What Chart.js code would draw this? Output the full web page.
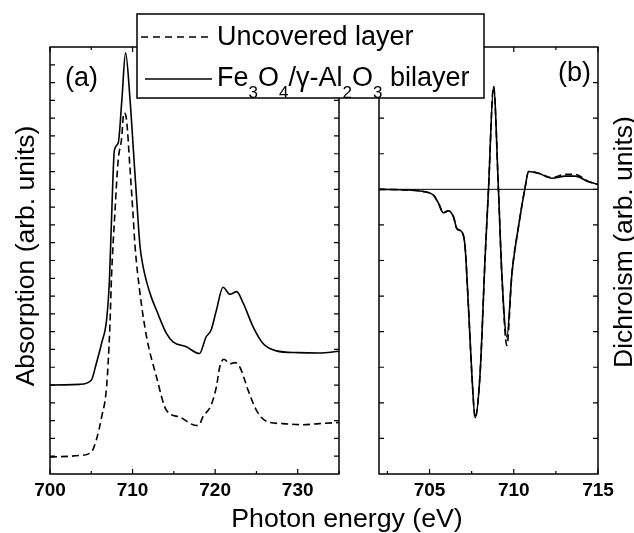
<!DOCTYPE html>
<html>
<head>
<meta charset="utf-8">
<script src="https://cdn.jsdelivr.net/npm/chart.js@4.4.1/dist/chart.umd.min.js"></script>
<style>
  html, body { margin: 0; padding: 0; background: #fff; }
  #wrap { position: relative; width: 634px; height: 533px; overflow: hidden; }
  #wrap canvas, #wrap svg { position: absolute; left: 0; top: 0; }
  svg text { font-family: "Liberation Sans", Arial, sans-serif; fill: #000; }
</style>
</head>
<body>
<div id="wrap">
  <canvas id="absChart" width="634" height="533"></canvas>
  <canvas id="dichChart" width="634" height="533"></canvas>
  <svg width="634" height="533" viewBox="0 0 634 533">
    <!-- legend -->
    <rect x="137" y="14" width="347" height="84" fill="#fff" stroke="#000" stroke-width="1.5"/>
    <line x1="141" y1="37" x2="212" y2="37" stroke="#000" stroke-width="1.6" stroke-dasharray="7 5"/>
    <line x1="145" y1="79" x2="212" y2="79" stroke="#000" stroke-width="1.6"/>
    <text x="217" y="45" font-size="27">Uncovered layer</text>
    <text x="217" y="86" font-size="27">Fe<tspan font-size="17" dy="12">3</tspan><tspan dy="-12">O</tspan><tspan font-size="17" dy="12">4</tspan><tspan dy="-12">/γ-Al</tspan><tspan font-size="17" dy="12">2</tspan><tspan dy="-12">O</tspan><tspan font-size="17" dy="12">3</tspan><tspan dy="-12"> bilayer</tspan></text>
    <!-- panel labels -->
    <text x="65" y="86" font-size="27">(a)</text>
    <text x="558" y="81" font-size="27">(b)</text>
    <!-- axis titles -->
    <text x="34" y="256" font-size="26.5" text-anchor="middle" transform="rotate(-90 34 256)">Absorption (arb. units)</text>
    <text x="632" y="242" font-size="26.5" text-anchor="middle" transform="rotate(-90 632 242)">Dichroism (arb. units)</text>
    <text x="347" y="527" font-size="26.7" text-anchor="middle">Photon energy (eV)</text>
  </svg>
</div>
<script>
// Panel (a): absorption, energy in eV, intensity in tick units
const bilayerAbsEnergy = [700, 703.6, 705.0, 705.6, 706.25, 706.85, 707.2, 707.5, 707.8, 708.26, 708.7, 709.15, 709.7, 710.1, 710.5, 710.9, 711.3, 711.7, 712.3, 712.9, 714.1, 714.9, 716.5, 718.1, 718.9, 719.5, 720.15, 720.95, 721.8, 722.6, 723.4, 724.6, 725.8, 727.4, 730, 732.6, 735];
const bilayerAbs = [5.0, 5.04, 5.27, 6.2, 7.35, 8.65, 10.9, 15.0, 18.2, 18.6, 21.0, 23.67, 21.0, 18.2, 15.4, 12.8, 11.6, 10.8, 9.9, 9.2, 7.9, 7.43, 7.15, 6.77, 7.7, 8.08, 9.2, 10.5, 10.1, 10.25, 9.6, 8.27, 7.33, 6.92, 6.82, 6.8, 6.9];

const uncoveredAbsEnergy = [700, 703.6, 705.0, 705.6, 706.25, 706.85, 707.25, 707.45, 707.85, 708.26, 708.66, 708.95, 709.27, 709.67, 710.07, 710.3, 710.9, 711.7, 712.9, 714.1, 715.7, 717.7, 718.1, 718.5, 719.5, 720.15, 720.55, 721.05, 721.8, 722.4, 723, 724, 725, 726.2, 728.2, 730.6, 732.6, 735];
const uncoveredAbs = [0.95, 1.04, 1.23, 1.9, 3.2, 4.9, 8.27, 11.1, 14.6, 17.66, 18.8, 20.3, 19.9, 17.3, 14.5, 12.8, 10.15, 7.7, 5.45, 3.58, 3.2, 2.73, 2.78, 3.2, 3.86, 4.9, 6.0, 6.45, 6.2, 6.26, 6.0, 4.7, 3.58, 2.97, 2.83, 2.77, 2.83, 2.9];

// Panel (b): dichroism
const dichEnergy = [702, 703.74, 704.73, 705.23, 705.53, 705.82, 706.12, 706.42, 706.62, 706.95, 707.11, 707.31, 707.51, 707.71, 708.0, 708.3, 708.5, 708.8, 709.09, 709.29, 709.59, 709.89, 710.28, 710.68, 710.88, 711.47, 712.27, 713.06, 713.65, 714.44, 715];
const bilayerDich = [0, -0.02, -0.07, -0.16, -0.39, -0.66, -0.6, -0.77, -1.1, -1.22, -1.62, -3.3, -5.18, -6.42, -5.18, -1.9, 0, 2.89, 0, -2.37, -4.15, -2.37, -1.05, 0.07, 0.5, 0.45, 0.31, 0.37, 0.37, 0.21, 0.14];
const uncoveredDich = [0, -0.02, -0.07, -0.16, -0.39, -0.66, -0.6, -0.77, -1.1, -1.22, -1.62, -3.3, -5.18, -6.42, -5.18, -1.9, 0, 2.89, 0, -2.37, -4.39, -2.37, -1.05, 0.07, 0.5, 0.45, 0.33, 0.42, 0.42, 0.22, 0.14];

// tick labels
const absTicks = [700, 710, 720, 730];
const dichTicks = [705, 710, 715];

const FONT = '"Liberation Sans", Arial, sans-serif';

const pairs = (xs, ys) => xs.map((x, i) => ({ x: x, y: ys[i] }));

// frame + inward tick marks on all four sides
const frameTicks = {
    id: 'frameTicks',
    afterDatasetsDraw(chart, args, opts) {
        const ctx = chart.ctx;
        const a = chart.chartArea;
        const xs = chart.scales.x;
        const ys = chart.scales.y;
        ctx.save();
        ctx.strokeStyle = '#000';
        ctx.lineWidth = 1.2;
        ctx.beginPath();
        const x0 = Math.ceil(xs.min / opts.xStep - 1e-9) * opts.xStep;
        for (let v = x0; v <= xs.max + 1e-9; v += opts.xStep) {
            const px = xs.getPixelForValue(v);
            const len = opts.major.some(m => Math.abs(m - v) < 1e-6) ? 5 : 3;
            ctx.moveTo(px, a.bottom); ctx.lineTo(px, a.bottom - len);
            ctx.moveTo(px, a.top); ctx.lineTo(px, a.top + len);
        }
        for (let v = ys.min + 1; v < ys.max; v += 1) {
            const py = ys.getPixelForValue(v);
            ctx.moveTo(a.left, py); ctx.lineTo(a.left + 5, py);
            ctx.moveTo(a.right, py); ctx.lineTo(a.right - 5, py);
        }
        ctx.stroke();
        ctx.lineWidth = 1.5;
        ctx.strokeRect(a.left, a.top, a.right - a.left, a.bottom - a.top);
        ctx.restore();
    }
};

function makeOptions(xMin, xMax, yMin, yMax, ticks, xStep, padding) {
    return {
        responsive: false,
        animation: false,
        layout: { padding: padding },
        elements: { point: { radius: 0 }, line: { cubicInterpolationMode: 'monotone' } },
        plugins: {
            legend: { display: false },
            tooltip: { enabled: false },
            frameTicks: { xStep: xStep, major: ticks }
        },
        scales: {
            x: {
                type: 'linear',
                min: xMin,
                max: xMax,
                grid: { display: false, drawTicks: false },
                border: { display: false },
                afterBuildTicks: s => { s.ticks = ticks.map(v => ({ value: v })); },
                afterFit: s => { s.height = 59; },
                ticks: {
                    color: '#000',
                    padding: 5.5,
                    maxRotation: 0,
                    autoSkip: false,
                    font: { family: FONT, size: 19, weight: 'bold' }
                }
            },
            y: { type: 'linear', display: false, min: yMin, max: yMax }
        }
    };
}

new Chart(document.getElementById('absChart'), {
    type: 'line',
    data: {
        datasets: [{
            label: 'Fe3O4/γ-Al2O3 bilayer',
            data: pairs(bilayerAbsEnergy, bilayerAbs),
            borderColor: '#000',
            borderWidth: 1.6,
            fill: false
        }, {
            label: 'Uncovered layer',
            data: pairs(uncoveredAbsEnergy, uncoveredAbs),
            borderColor: '#000',
            borderWidth: 1.6,
            borderDash: [7, 4],
            fill: false
        }]
    },
    options: makeOptions(700, 735, 0, 24, absTicks, 5, { left: 50, right: 295, top: 47, bottom: 0 }),
    plugins: [frameTicks]
});

new Chart(document.getElementById('dichChart'), {
    type: 'line',
    data: {
        datasets: [{
            label: 'Fe3O4/γ-Al2O3 bilayer',
            data: pairs(dichEnergy, bilayerDich),
            borderColor: '#000',
            borderWidth: 1.6,
            fill: false
        }, {
            label: 'Uncovered layer',
            data: pairs(dichEnergy, uncoveredDich),
            borderColor: '#000',
            borderWidth: 1.6,
            borderDash: [7, 4],
            fill: false
        }, {
            label: 'zero',
            data: [{ x: 702, y: 0 }, { x: 715, y: 0 }],
            borderColor: '#000',
            borderWidth: 1,
            fill: false
        }]
    },
    options: makeOptions(702, 715, -8, 4, dichTicks, 2.5, { left: 379, right: 36, top: 47, bottom: 0 }),
    plugins: [frameTicks]
});
</script>
</body>
</html>
